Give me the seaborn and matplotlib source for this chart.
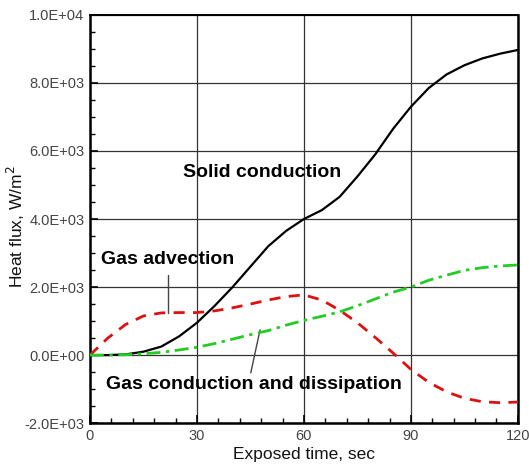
import numpy as np
import pandas as pd
import matplotlib
matplotlib.use("Agg")
import matplotlib.pyplot as plt
import seaborn as sns
from matplotlib.ticker import MultipleLocator, FuncFormatter

time_s = [0, 5, 10, 15, 20, 25, 30, 35, 40, 45, 50, 55, 60, 65, 70, 75, 80, 85, 90, 95, 100, 105, 110, 115, 120]
solid_conduction = [0, 0, 20, 100, 250, 550, 950, 1450, 2000, 2600, 3200, 3650, 4000, 4260, 4650, 5250, 5900, 6650, 7300, 7850, 8250, 8520, 8720, 8860, 8970]
gas_advection = [0, 500, 900, 1150, 1240, 1250, 1250, 1300, 1390, 1500, 1620, 1720, 1770, 1620, 1320, 950, 520, 60, -420, -800, -1080, -1270, -1370, -1400, -1380]
gas_cond_diss = [0, 0, 10, 40, 80, 150, 230, 340, 470, 600, 720, 880, 1020, 1140, 1270, 1450, 1650, 1850, 2000, 2200, 2350, 2490, 2570, 2620, 2650]

series_names = ["Solid conduction", "Gas advection", "Gas conduction and dissipation"]
x_ticks = [0, 30, 60, 90, 120]
y_ticks = [-2000, 0, 2000, 4000, 6000, 8000, 10000]

df = pd.DataFrame({
    "time": time_s * 3,
    "flux": solid_conduction + gas_advection + gas_cond_diss,
    "series": [series_names[0]] * len(time_s) + [series_names[1]] * len(time_s) + [series_names[2]] * len(time_s),
})

sns.set_theme(style="white")
plt.rcParams['font.family'] = ['Liberation Sans', 'DejaVu Sans']

fig = plt.figure(figsize=(5.29, 4.66), dpi=100)
ax = fig.add_axes([0.170, 0.092, 0.809, 0.876])

styles = {
    series_names[0]: dict(color="black", ls="-", lw=1.6),
    series_names[1]: dict(color="#dd1111", ls=(0, (4, 3)), lw=2.0),
    series_names[2]: dict(color="#22cc22", ls=(0, (5, 2, 1.2, 2)), lw=2.0),
}
for name in series_names:
    sub = df[df["series"] == name]
    st = styles[name]
    sns.lineplot(data=sub, x="time", y="flux", ax=ax, color=st["color"],
                 linestyle=st["ls"], linewidth=st["lw"], legend=False, zorder=3)

ax.set_xlim(0, 120)
ax.set_ylim(-2000, 10000)
ax.set_xticks(x_ticks)
ax.set_yticks(y_ticks)
ax.xaxis.set_minor_locator(MultipleLocator(6))
ax.yaxis.set_minor_locator(MultipleLocator(500))
ax.yaxis.set_major_formatter(FuncFormatter(lambda v, p: f"{v:.1E}"))
ax.grid(True, which="major", color="#333333", lw=0.9)
ax.tick_params(which="major", direction="in", length=6, width=1.2, colors="black",
               labelcolor="#444444", labelsize=10.5, top=False, right=False, pad=4)
ax.tick_params(which="minor", direction="in", length=3.5, width=1.0, colors="black",
               top=False, right=False)
ax.tick_params(axis="y", which="both", left=True)
ax.tick_params(axis="x", which="both", bottom=True)
for sp in ax.spines.values():
    sp.set_color("black")
    sp.set_linewidth(1.8)
ax.spines["top"].set_linewidth(1.4)

ax.set_xlabel("Exposed time, sec", fontsize=12.5, color="#111111", labelpad=3)
ax.set_ylabel("Heat flux, W/m$^2$", fontsize=12.5, color="#111111")
ax.yaxis.set_label_coords(-0.147, 0.48)

tk = dict(fontsize=14, fontweight="bold", color="black", ha="center", va="center")
ax.text(48.2, 5380, series_names[0], **tk)
ax.text(21.9, 2800, series_names[1], **tk)
ax.text(46.0, -850, series_names[2], **tk)
ax.plot([21.9, 21.9], [2350, 1250], color="#444444", lw=1.0, zorder=2)
ax.plot([45.1, 47.7], [-520, 740], color="#444444", lw=1.0, zorder=2)

fig.savefig("out.png", dpi=100)
